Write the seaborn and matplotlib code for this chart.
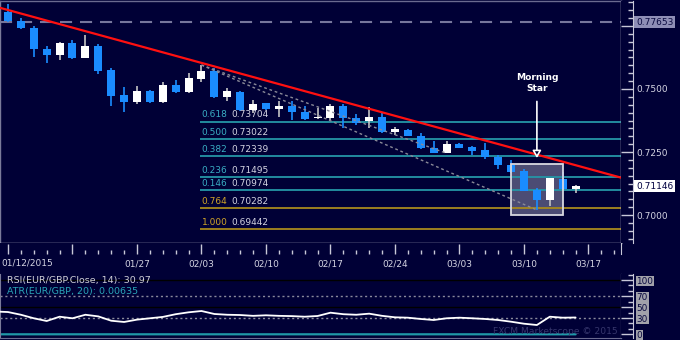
import numpy as np
import matplotlib
matplotlib.use("Agg")
import matplotlib.pyplot as plt
from matplotlib.patches import Rectangle
from matplotlib.ticker import MultipleLocator, FixedLocator
import seaborn as sns

# ---------------- data ----------------
opens = [0.78044, 0.77698, 0.77409, 0.76599, 0.76349, 0.76825, 0.76242, 0.76694, 0.75742, 0.74762,
         0.74472, 0.74933, 0.74496, 0.75159, 0.74893, 0.75397, 0.75714, 0.74671, 0.74893, 0.74167,
         0.74433, 0.74214, 0.74325, 0.74099, 0.73837, 0.73849, 0.74306, 0.73837, 0.73730, 0.73877,
         0.73306, 0.73373, 0.73135, 0.72671, 0.72472, 0.72806, 0.72710, 0.72579, 0.72313, 0.71984,
         0.71746, 0.70992, 0.70595, 0.71429, 0.71020]
highs = [0.78373, 0.77829, 0.77488, 0.76718, 0.76853, 0.76956, 0.77143, 0.76786, 0.75845, 0.75067,
         0.75119, 0.74960, 0.75266, 0.75357, 0.75647, 0.75952, 0.75821, 0.75040, 0.74921, 0.74563,
         0.74444, 0.74516, 0.74524, 0.74325, 0.74254, 0.74405, 0.74413, 0.74008, 0.74274, 0.74036,
         0.73504, 0.73393, 0.73242, 0.72948, 0.72948, 0.72845, 0.72750, 0.72845, 0.72381, 0.72183,
         0.71813, 0.71060, 0.71468, 0.71718, 0.71190]
lows = [0.77659, 0.77381, 0.76282, 0.76020, 0.76151, 0.76179, 0.76218, 0.75595, 0.74325, 0.74099,
        0.74405, 0.74464, 0.74433, 0.74829, 0.74853, 0.75290, 0.74631, 0.74536, 0.74127, 0.74048,
        0.74167, 0.73901, 0.73770, 0.73770, 0.73829, 0.73758, 0.73472, 0.73552, 0.73472, 0.73242,
        0.73175, 0.73127, 0.72607, 0.72448, 0.72448, 0.72647, 0.72381, 0.72210, 0.71813, 0.71667,
        0.70940, 0.70198, 0.70357, 0.70992, 0.70885]
closes = [0.77710, 0.77409, 0.76587, 0.76349, 0.76825, 0.76242, 0.76694, 0.75726, 0.74734, 0.74472,
          0.74921, 0.74496, 0.75159, 0.74893, 0.75425, 0.75714, 0.74683, 0.74913, 0.74167, 0.74417,
          0.74194, 0.74345, 0.74099, 0.73829, 0.73877, 0.74325, 0.73837, 0.73631, 0.73877, 0.73306,
          0.73401, 0.73147, 0.72647, 0.72472, 0.72806, 0.72671, 0.72540, 0.72313, 0.71984, 0.71694,
          0.70964, 0.70595, 0.71456, 0.71020, 0.71146]

# RSI / ATR start one session before the first visible candle
rsi_values = [42, 41, 36, 29.5, 24.5, 32.4, 29.5, 36, 33, 25, 22.7, 27, 29.5, 32, 37, 40.5, 42.9,
              37.4, 36, 35.5, 34, 35, 34, 33.5, 32.4, 33.7, 39.8, 37, 36, 38, 34, 31.3, 30.6, 28.2,
              26.3, 29.5, 30.6, 29.5, 28.2, 26.3, 23.2, 19.5, 17.1, 32.4, 30.6, 30.97]
atr_values = [0.0081, 0.0082, 0.0083, 0.0085, 0.0086, 0.0085, 0.0084, 0.0084, 0.0086, 0.0088,
              0.0087, 0.0085, 0.0083, 0.0082, 0.0081, 0.0080, 0.0079, 0.0079, 0.0077, 0.0076,
              0.0074, 0.0072, 0.0071, 0.0069, 0.0068, 0.0066, 0.0066, 0.0065, 0.0064, 0.0063,
              0.0062, 0.0061, 0.0060, 0.0060, 0.0059, 0.0058, 0.0058, 0.0058, 0.0059, 0.0060,
              0.0061, 0.0063, 0.0066, 0.0066, 0.0065, 0.00635]

fib_ratios = ["0.618", "0.500", "0.382", "0.236", "0.146", "0.764", "1.000"]
fib_levels = [0.73704, 0.73022, 0.72339, 0.71495, 0.70974, 0.70282, 0.69442]
fib_start = 15                      # swing-high session

trend_points = [(0, 0.78135), (47, 0.71556)]
resistance_level = 0.77653
last_price = 0.71146
price_ticks = [0.7000, 0.7250, 0.7500, 0.7750]
price_tick_labels = ["0.7000", "0.7250", "0.7500", ""]   # 0.7750 is hidden under the 0.77653 tag
rsi_ticks = [0, 30, 50, 70, 100]
rsi_tick_labels = ["0", "30", "50", "70", "100"]
date_tick_pos = [0, 5, 10, 15, 20, 25, 30, 35, 40, 45]
date_labels = ["01/12/2015", "", "01/27", "02/03", "02/10", "02/17", "02/24", "03/03", "03/10", "03/17"]
pattern = [40, 42]                  # Morning Star sessions
rsi_label = "RSI(EUR/GBP.Close, 14): 30.97"
atr_label = "ATR(EUR/GBP, 20): 0.00635"

# ---------------- style ----------------
BG = "#000036"
BLUE = "#1a8cff"
TEAL = "#2596a6"
TEAL_TXT = "#3aaec4"
GOLD = "#a8891e"
GOLD_TXT = "#d0a428"
LIGHT = "#d4d4e2"

sns.set_style("ticks", rc={"axes.facecolor": BG, "figure.facecolor": BG, "axes.grid": False})
plt.rcParams["font.family"] = ["DejaVu Sans"]

W, H = 680, 340
fig = plt.figure(figsize=(6.8, 3.4), dpi=100, facecolor=BG)


def rect(x0, y0, x1, y1):
    return [x0 / W, 1 - y1 / H, (x1 - x0) / W, (y1 - y0) / H]


XLIM = (-0.62, 47.52)
YLIM = (0.68889, 0.78492)
RLIM = (-6.81, 111.05)

# ---------------- main price panel ----------------
ax = fig.add_axes(rect(0, 1, 621, 243))
ax.set_facecolor(BG)
ax.set_xlim(XLIM)
ax.set_ylim(YLIM)
ax.tick_params(left=False, bottom=False, labelleft=False, labelbottom=False)
for s, c in {"left": "#7a7a9a", "top": "#6a6a90", "right": "#c8c8d8", "bottom": "#c8c8d8"}.items():
    ax.spines[s].set_color(c)
    ax.spines[s].set_linewidth(1)

idx = np.arange(len(opens))
o, h, l, c = map(np.array, (opens, highs, lows, closes))
up = c >= o
body_col = np.where(up, "#ffffff", BLUE)
wick_col = np.where(up, "#c4c4c4", BLUE)
ax.vlines(idx, l, h, colors=wick_col, lw=1.2, zorder=3)
ax.bar(idx, np.maximum(np.abs(c - o), 0.00022), bottom=np.minimum(o, c), width=0.62,
       color=body_col, edgecolor="none", zorder=4)

# resistance dashed line
ax.axhline(resistance_level, color="#76769c", lw=1.5, ls=(0, (5.8, 3.8)), zorder=2)

# Fibonacci levels
for ratio, lvl in zip(fib_ratios, fib_levels):
    gold = ratio in ("0.764", "1.000")
    ax.hlines(lvl, fib_start - 0.1, XLIM[1], color=GOLD if gold else TEAL, lw=1.3, zorder=2)
    ax.annotate(ratio, xy=(fib_start - 0.1, lvl), xytext=(1.2, 1.6), textcoords="offset points",
                ha="left", va="bottom", fontsize=6.5, color=GOLD_TXT if gold else TEAL_TXT, zorder=7)
    ax.annotate(f"{lvl:.5f}", xy=(fib_start - 0.1, lvl), xytext=(22.3, 1.6), textcoords="offset points",
                ha="left", va="bottom", fontsize=6.5, color=LIGHT, zorder=7)

# pattern box
p0, p1 = pattern
box_lo = min(lows[p0:p1 + 1]) - 0.002
box_hi = max(highs[p0:p1 + 1]) + 0.002
ax.add_patch(Rectangle((p0 - 1, box_lo), (p1 - p0) + 2, box_hi - box_lo,
                       facecolor="#55557c", edgecolor="none", alpha=0.9, zorder=1.5))
ax.add_patch(Rectangle((p0 - 1, box_lo), (p1 - p0) + 2, box_hi - box_lo,
                       fill=False, edgecolor="#d8d8e0", lw=1.3, zorder=5))

# dotted channel lines
ax.plot([fib_start, 34], [highs[fib_start], lows[34]], color="#8a8a98", lw=1, ls=(0, (2, 2)), zorder=5)
ax.plot([fib_start, 41], [highs[fib_start], lows[41]], color="#8a8a98", lw=1, ls=(0, (2, 2)), zorder=5)

# red trendline
ax.axline(trend_points[0], trend_points[1], color="#ff1010", lw=1.6, zorder=6)

# Morning Star annotation
ax.annotate("Morning\nStar", xy=(41, 0.72262), xytext=(41, 0.74857), ha="center", va="bottom",
            fontsize=6.6, fontweight="bold", color="white", linespacing=1.3,
            arrowprops=dict(arrowstyle="-|>,head_length=0.65,head_width=0.38", ec="white", fc=BG,
                            lw=1.2, shrinkA=4, shrinkB=0), zorder=8)

# ---------------- x tick band ----------------
axb = fig.add_axes(rect(0, 243, 621, 254))
axb.set_facecolor(BG)
axb.set_xlim(XLIM)
axb.set_ylim(0, 1)
axb.set_yticks([])
for s in ("left", "top", "bottom"):
    axb.spines[s].set_visible(False)
axb.spines["right"].set_color("#c8c8d8")
axb.xaxis.set_major_locator(FixedLocator(date_tick_pos))
axb.xaxis.set_minor_locator(MultipleLocator(1))
axb.set_xticks(date_tick_pos)
axb.set_xticklabels(["" if i == 0 else t for i, t in enumerate(date_labels)])
axb.tick_params(axis="x", which="major", direction="in", length=7.5, width=1, color="#c8c8d8",
                labelsize=6.5, labelcolor=LIGHT, pad=4)
axb.tick_params(axis="x", which="minor", direction="in", length=3, width=1, color="#c8c8d8")
axb.text(XLIM[0] + 0.08, -0.45, date_labels[0], transform=axb.get_xaxis_transform(),
         ha="left", va="top", fontsize=6.5, color=LIGHT)

# ---------------- right price axis ----------------
axr = fig.add_axes(rect(621, 1, 633, 243))
axr.set_facecolor(BG)
axr.set_ylim(YLIM)
axr.set_xlim(0, 1)
axr.set_xticks([])
for s in ("left", "top", "bottom"):
    axr.spines[s].set_visible(False)
axr.spines["right"].set_color("#c8c8d8")
axr.yaxis.tick_right()
axr.set_yticks(price_ticks)
axr.set_yticklabels(price_tick_labels)
axr.yaxis.set_minor_locator(MultipleLocator(0.003125))
axr.tick_params(axis="y", which="major", direction="in", length=8.3, width=1, color="#c8c8d8",
                labelsize=6.5, labelcolor=LIGHT, pad=2.5)
axr.tick_params(axis="y", which="minor", direction="in", length=3.6, width=1, color="#c8c8d8")
axr.annotate(f"{resistance_level:.5f}", xy=(1, resistance_level), xycoords=("axes fraction", "data"),
             xytext=(2.2, 0), textcoords="offset points", ha="left", va="center", fontsize=6.5,
             color="#0a0a40", bbox=dict(boxstyle="square,pad=0.2", fc="#8e8eb6", ec="none"),
             zorder=10, annotation_clip=False)
axr.annotate(f"{last_price:.5f}", xy=(1, last_price), xycoords=("axes fraction", "data"),
             xytext=(2.2, 0), textcoords="offset points", ha="left", va="center", fontsize=6.5,
             color="#000040", bbox=dict(boxstyle="square,pad=0.2", fc="#ffffff", ec="none"),
             zorder=10, annotation_clip=False)

# ---------------- RSI panel ----------------
axs = fig.add_axes(rect(0, 274, 621, 338))
axs.set_facecolor(BG)
axs.set_xlim(XLIM)
axs.set_ylim(RLIM)
axs.tick_params(left=False, bottom=False, labelleft=False, labelbottom=False)
axs.spines["top"].set_visible(False)
axs.spines["left"].set_color("#7a7a9a")
axs.spines["bottom"].set_color("#6a6a90")
axs.spines["right"].set_color("#c8c8d8")
axs.axhline(100, color="black", lw=1, zorder=1)
axs.axhline(50, color="black", lw=1, zorder=1)
for lvl in (70, 30):
    axs.axhline(lvl, color="#8a8a9c", lw=1, ls=(0, (1.5, 2)), zorder=1)
rsi_x = np.arange(-1, len(opens))
sns.lineplot(x=rsi_x, y=atr_values, ax=axs, color="#1f98a8", lw=1.6, zorder=2)
sns.lineplot(x=rsi_x, y=rsi_values, ax=axs, color="white", lw=1.3, zorder=3)
axs.set_xlabel("")
axs.set_ylabel("")
axs.text(7 / 621, (338 - 281) / 64, rsi_label, transform=axs.transAxes, ha="left", va="center",
         fontsize=6.8, color="#d0d0d8", zorder=5)
axs.text(7 / 621, (338 - 291.5) / 64, atr_label, transform=axs.transAxes, ha="left", va="center",
         fontsize=6.8, color="#2aa6b8", zorder=5)

axsr = fig.add_axes(rect(621, 274, 633, 338))
axsr.set_facecolor(BG)
axsr.set_ylim(RLIM)
axsr.set_xlim(0, 1)
axsr.set_xticks([])
for s in ("left", "top", "bottom"):
    axsr.spines[s].set_visible(False)
axsr.spines["right"].set_color("#c8c8d8")
axsr.yaxis.tick_right()
axsr.set_yticks(rsi_ticks)
axsr.set_yticklabels(rsi_tick_labels)
axsr.yaxis.set_minor_locator(MultipleLocator(10))
axsr.tick_params(axis="y", which="major", direction="in", length=8.3, width=1, color="#c8c8d8",
                 labelsize=6.4, labelcolor="#0a0a40", pad=2.5)
axsr.tick_params(axis="y", which="minor", direction="in", length=3.6, width=1, color="#c8c8d8")
for lab in axsr.get_yticklabels():
    lab.set_bbox(dict(boxstyle="square,pad=0.1", fc="#a2a2aa", ec="none"))

fig.text(618 / W, 1 - 332 / H, "FXCM Marketscope \u00a9 2015", ha="right", va="center",
         fontsize=6.6, color="#36366c")

fig.savefig("out.png", dpi=100, facecolor=BG)
